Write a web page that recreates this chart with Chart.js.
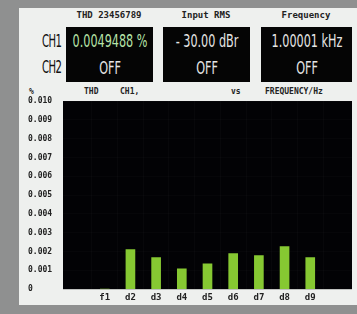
<!DOCTYPE html>
<html>
<head>
<meta charset="UTF-8"/>
<script src="https://cdn.jsdelivr.net/npm/chart.js@4/dist/chart.umd.min.js"></script>
<style>
  *{box-sizing:border-box;margin:0;padding:0}
  body{width:357px;height:314px;background:#8f9090;position:relative;overflow:hidden;font-family:"DejaVu Sans","Liberation Sans",sans-serif}
  .panel{position:absolute;left:19px;top:8px;width:338px;height:297px;background:#eef0ee}
  .t{position:absolute;color:#222;white-space:nowrap}
  .title{font-family:"DejaVu Sans Mono",monospace;font-weight:bold;font-size:9px;top:10px;transform:translateX(-50%)}
  .ch{font-size:18px;left:42px;letter-spacing:-1px;transform:scaleX(.56);transform-origin:left;color:#111}
  .box{position:absolute;top:27px;height:55px;background:#050505;overflow:hidden}
  .val{position:absolute;left:50%;color:#e6e6e6;font-size:17px;white-space:nowrap;transform:translateX(-50%) scaleX(.66)}
  .hdr{font-family:"DejaVu Sans Mono",monospace;font-weight:bold;font-size:8px;top:87px}
  canvas{position:absolute;left:0;top:0}
</style>
</head>
<body>
<div class="panel"></div>
<div class="t title" style="left:109px">THD 23456789</div>
<div class="t title" style="left:206px">Input RMS</div>
<div class="t title" style="left:306px">Frequency</div>
<div class="t ch" style="top:30px">CH1</div>
<div class="t ch" style="top:56px">CH2</div>
<div class="box" style="left:66px;width:87px">
  <div class="val" style="top:4px;color:#b6e3a8">0.0049488 %</div>
  <div class="val" style="top:31px">OFF</div>
</div>
<div class="box" style="left:163px;width:87px">
  <div class="val" style="top:4px">- 30.00 dBr</div>
  <div class="val" style="top:31px">OFF</div>
</div>
<div class="box" style="left:261px;width:91px">
  <div class="val" style="top:4px">1.00001 kHz</div>
  <div class="val" style="top:31px">OFF</div>
</div>
<div class="t hdr" style="left:29px">%</div>
<div class="t hdr" style="left:84px">THD</div>
<div class="t hdr" style="left:120px">CH1,</div>
<div class="t hdr" style="left:231px">vs</div>
<div class="t hdr" style="left:265px">FREQUENCY/Hz</div>
<canvas id="c" width="357" height="314"></canvas>
<script>
// harmonic order and THD contribution in %
const harmonics = [1, 2, 3, 4, 5, 6, 7, 8, 9];
const harmonicLabels = ['f1', 'd2', 'd3', 'd4', 'd5', 'd6', 'd7', 'd8', 'd9'];
const thdValues = [0, 0.00210, 0.00168, 0.00108, 0.00135, 0.00189, 0.00178, 0.00227, 0.00168];
const yTicks = [0, 0.001, 0.002, 0.003, 0.004, 0.005, 0.006, 0.007, 0.008, 0.009, 0.010];

const blackPlot = {
  id: 'blackPlot',
  beforeDraw(chart) {
    const { ctx, chartArea: a } = chart;
    ctx.save();
    ctx.fillStyle = '#020205';
    ctx.fillRect(a.left, a.top, a.right - a.left, a.bottom - a.top);
    ctx.restore();
  }
};

new Chart(document.getElementById('c'), {
  type: 'bar',
  data: {
    datasets: [{
      data: harmonics.map((h, i) => ({ x: h, y: thdValues[i] })),
      backgroundColor: '#86c832',
      barThickness: 9,
      borderWidth: 0
    }]
  },
  options: {
    responsive: false,
    animation: false,
    layout: { padding: { left: 28, top: 101, right: 5, bottom: 8 } },
    plugins: { legend: { display: false }, tooltip: { enabled: false } },
    scales: {
      x: {
        type: 'linear', min: 0, max: 10,
        afterBuildTicks: s => { s.ticks = harmonics.map(v => ({ value: v })); },
        ticks: {
          callback: v => harmonicLabels[harmonics.indexOf(v)] || '',
          color: '#222', font: { family: 'DejaVu Sans Mono', size: 9, weight: 'bold' },
          padding: 3, maxRotation: 0
        },
        grid: { color: 'rgba(255,255,255,0.025)', drawTicks: false },
        border: { display: false }
      },
      y: {
        min: 0, max: 0.010,
        afterBuildTicks: s => { s.ticks = yTicks.map(v => ({ value: v })); },
        afterFit: s => { s.width = 35; },
        ticks: {
          callback: v => v === 0 ? '0' : v.toFixed(3),
          color: '#222', font: { family: 'DejaVu Sans Mono', size: 8, weight: 'bold' },
          crossAlign: 'far', padding: 0
        },
        grid: { color: 'rgba(255,255,255,0.02)', drawTicks: false },
        border: { display: false }
      }
    }
  },
  plugins: [blackPlot]
});
</script>
</body>
</html>
